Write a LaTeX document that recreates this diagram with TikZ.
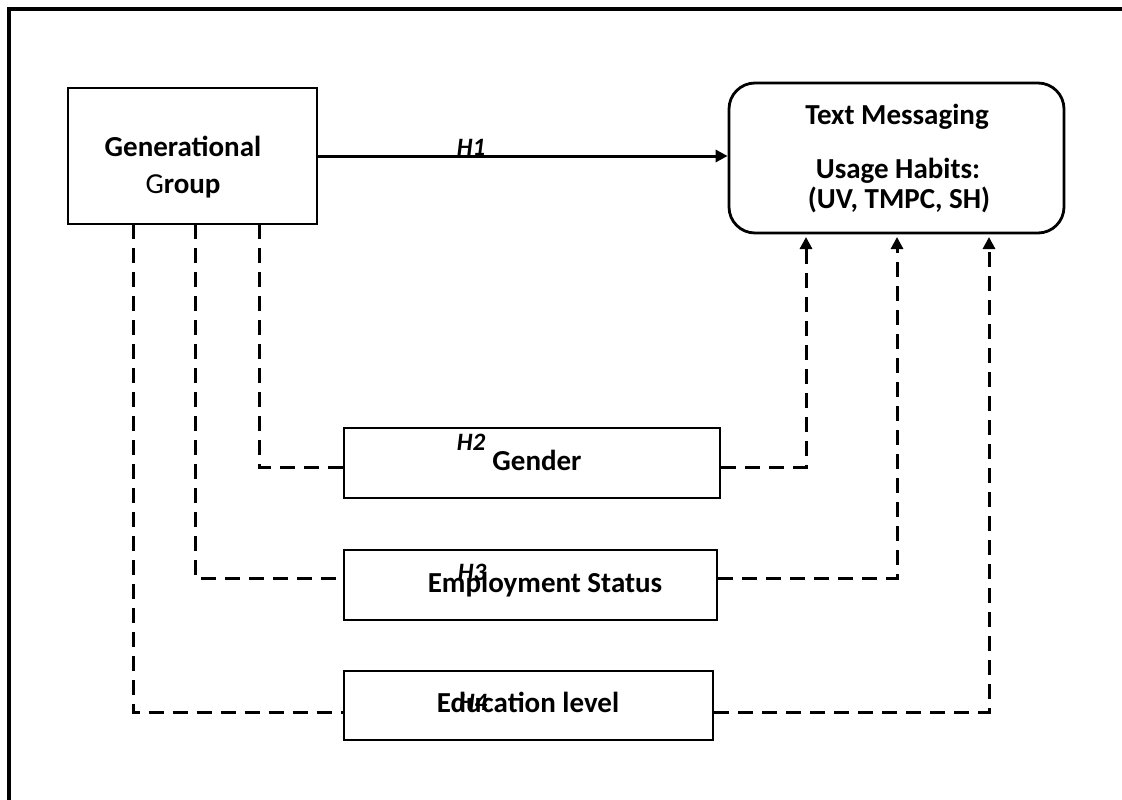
\documentclass[tikz,border=0pt]{standalone}
\usepackage{fontspec}
\setmainfont{Carlito}
\usetikzlibrary{arrows.meta}

\begin{document}
\begin{tikzpicture}[x=1pt, y=-1pt, >={Triangle[length=12pt,width=12pt]},
    box/.style={rectangle, draw=black, line width=2.8pt, inner sep=0pt},
    txt/.style={anchor=base, inner sep=0pt, font=\fontsize{29}{34}\selectfont\bfseries},
    hyp/.style={anchor=base, inner sep=0pt, font=\fontsize{25}{29}\selectfont\bfseries\itshape},
    dashline/.style={line width=3pt, dash pattern=on 15pt off 9pt}]

        \clip (0,0) rectangle (1122,800);
        % outer frame, runs off the page on the right and at the bottom
        \draw[line width=4pt] (9,9) rectangle (1150,830);

        \node[box, minimum width=249pt, minimum height=136pt] (gen) at (192.5,156) {};
        \node[box, rounded corners=26pt, minimum width=335pt, minimum height=150pt] (msg) at (896.5,158) {};

        \node[box, minimum width=376pt, minimum height=70pt] (gender) at (532,463) {};
        \node[box, minimum width=373pt, minimum height=70pt] (employ) at (530.5,585) {};
        \node[box, minimum width=369pt, minimum height=69pt] (educ) at (528.5,705.5) {};

        \node[txt] (genl1) at (183,156) {Generational};
        \node[txt] (genl2) at (183,193) {{\mdseries G}roup};

        \node[txt] (msgl1) at (897,124) {Text Messaging};
        \node[txt] (msgl2) at (898,178) {Usage Habits:};
        \node[txt] (msgl3) at (899,208) {(UV, TMPC, SH)};

        \node[txt] (gendertxt) at (537,470) {Gender};
        \node[txt] (employtxt) at (545,592) {Employment Status};
        \node[txt] (eductxt) at (528,712) {Education level};

        \node[hyp] (h1) at (471,155) {H1};
        \node[hyp] (h2) at (471,450) {H2};
        \node[hyp] (h3) at (472,580) {H3};
        \node[hyp] (h4) at (473,710) {H4};

        % start points under the group box, end points under the habits box
        \coordinate (g1) at (259,224);
        \coordinate (g2) at (195,224);
        \coordinate (g3) at (133,224);
        \coordinate (m1) at (806,233);
        \coordinate (m2) at (897,233);
        \coordinate (m3) at (989,233);

        \draw[->, line width=3pt] (gen.east) -- (gen.east -| msg.west);

        \draw[dashline] (g1) |- ([yshift=-4pt]gender.west);
        \draw[dashline, ->, shorten >=4pt] ([yshift=-4pt]gender.east) -| (m1);

        \draw[dashline] (g2) |- ([yshift=7pt]employ.west);
        \draw[dashline, ->, shorten >=4pt] ([yshift=7pt]employ.east) -| (m2);

        \draw[dashline] (g3) |- ([yshift=-7pt]educ.west);
        \draw[dashline, ->, shorten >=4pt] ([yshift=-7pt]educ.east) -| (m3);

\end{tikzpicture}
\end{document}
